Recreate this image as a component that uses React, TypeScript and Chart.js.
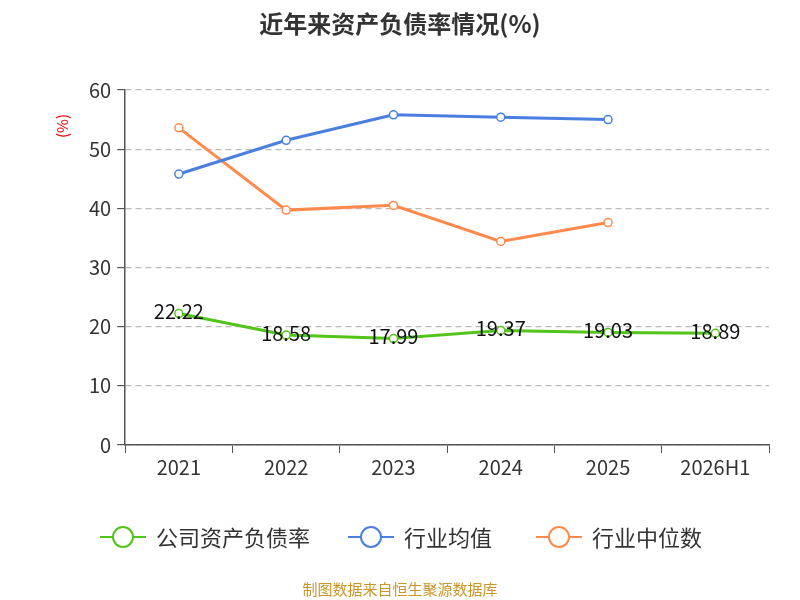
import React, { useEffect, useRef } from "react";
import { Chart, registerables } from "chart.js";
Chart.register(...registerables);

const categories = ["2021", "2022", "2023", "2024", "2025", "2026H1"];
const companyRatio = [22.22, 18.58, 17.99, 19.37, 19.03, 18.89];
const industryAvg = [45.8, 51.5, 55.8, 55.4, 55.0, null];
const industryMedian = [53.6, 39.7, 40.5, 34.4, 37.6, null];
const seriesNames = ["公司资产负债率", "行业均值", "行业中位数"];
const colors = ["#52c41a", "#4a7fe0", "#ff8a4c"];

const FONT = "'Noto Sans CJK SC', 'Noto Sans', sans-serif";

const extras = {
  id: "extras",
  afterDatasetsDraw(chart: any) {
    const ctx = chart.ctx;
    ctx.save();
    const meta = chart.getDatasetMeta(0);
    ctx.font = `20px ${FONT}`;
    ctx.fillStyle = "#111";
    ctx.textAlign = "center";
    ctx.textBaseline = "middle";
    meta.data.forEach((p: any, i: number) => {
      ctx.fillText(companyRatio[i].toFixed(2), p.x, p.y - 2);
    });
    ctx.save();
    ctx.translate(62, 126);
    ctx.rotate(-Math.PI / 2);
    ctx.fillStyle = "#e00";
    ctx.font = `15px ${FONT}`;
    ctx.fillText("(%)", 0, 0);
    ctx.restore();
    ctx.fillStyle = "#333";
    ctx.font = `bold 24px ${FONT}`;
    ctx.fillText("近年来资产负债率情况(%)", 400, 24);
    const xs = [100, 348, 536];
    ctx.font = `22px ${FONT}`;
    ctx.textAlign = "left";
    xs.forEach((x, i) => {
      const y = 537;
      ctx.strokeStyle = colors[i];
      ctx.lineWidth = 2;
      ctx.beginPath();
      ctx.moveTo(x, y);
      ctx.lineTo(x + 46, y);
      ctx.stroke();
      ctx.beginPath();
      ctx.arc(x + 23, y, 10, 0, Math.PI * 2);
      ctx.fillStyle = "#fff";
      ctx.fill();
      ctx.stroke();
      ctx.fillStyle = "#333";
      ctx.fillText(seriesNames[i], x + 56, y + 1);
    });
    ctx.textAlign = "center";
    ctx.fillStyle = "#c8962a";
    ctx.font = `15px ${FONT}`;
    ctx.fillText("制图数据来自恒生聚源数据库", 400, 589);
    ctx.restore();
  },
};

export default function App() {
  const ref = useRef<HTMLCanvasElement>(null);
  useEffect(() => {
    const mk = (data: any[], c: string) => ({
      data,
      borderColor: c,
      backgroundColor: "#fff",
      pointBackgroundColor: "#fff",
      pointBorderColor: c,
      pointRadius: 4,
      pointBorderWidth: 1.5,
      borderWidth: 3,
      tension: 0,
    });
    const chart = new Chart(ref.current!, {
      type: "line",
      data: {
        labels: categories,
        datasets: [
          { label: seriesNames[0], ...mk(companyRatio, colors[0]) },
          { label: seriesNames[1], ...mk(industryAvg, colors[1]) },
          { label: seriesNames[2], ...mk(industryMedian, colors[2]) },
        ],
      },
      options: {
        animation: false,
        responsive: false,
        layout: { padding: { top: 90, bottom: 119, left: 83, right: 31 } },
        plugins: { legend: { display: false }, tooltip: { enabled: false } },
        scales: {
          x: {
            offset: true,
            grid: { display: true, drawOnChartArea: false, offset: true, tickLength: 8, color: "#555" },
            border: { color: "#555", width: 1.5 },
            ticks: { color: "#333", font: { size: 20, family: FONT }, padding: 2 },
          },
          y: {
            min: 0,
            max: 60,
            ticks: { stepSize: 10, color: "#333", font: { size: 20, family: FONT }, padding: 6 },
            grid: { color: "#bbb", tickColor: "#555", tickLength: 8, lineWidth: 1.2 },
            border: { color: "#555", width: 1.5, dash: [6, 4] },
          },
        },
      },
      plugins: [extras],
    });
    return () => chart.destroy();
  }, []);
  return (
    <div style={{ position: "fixed", left: 0, top: 0, width: 800, height: 600, background: "#fff" }}>
      <canvas ref={ref} width={800} height={600} />
    </div>
  );
}
